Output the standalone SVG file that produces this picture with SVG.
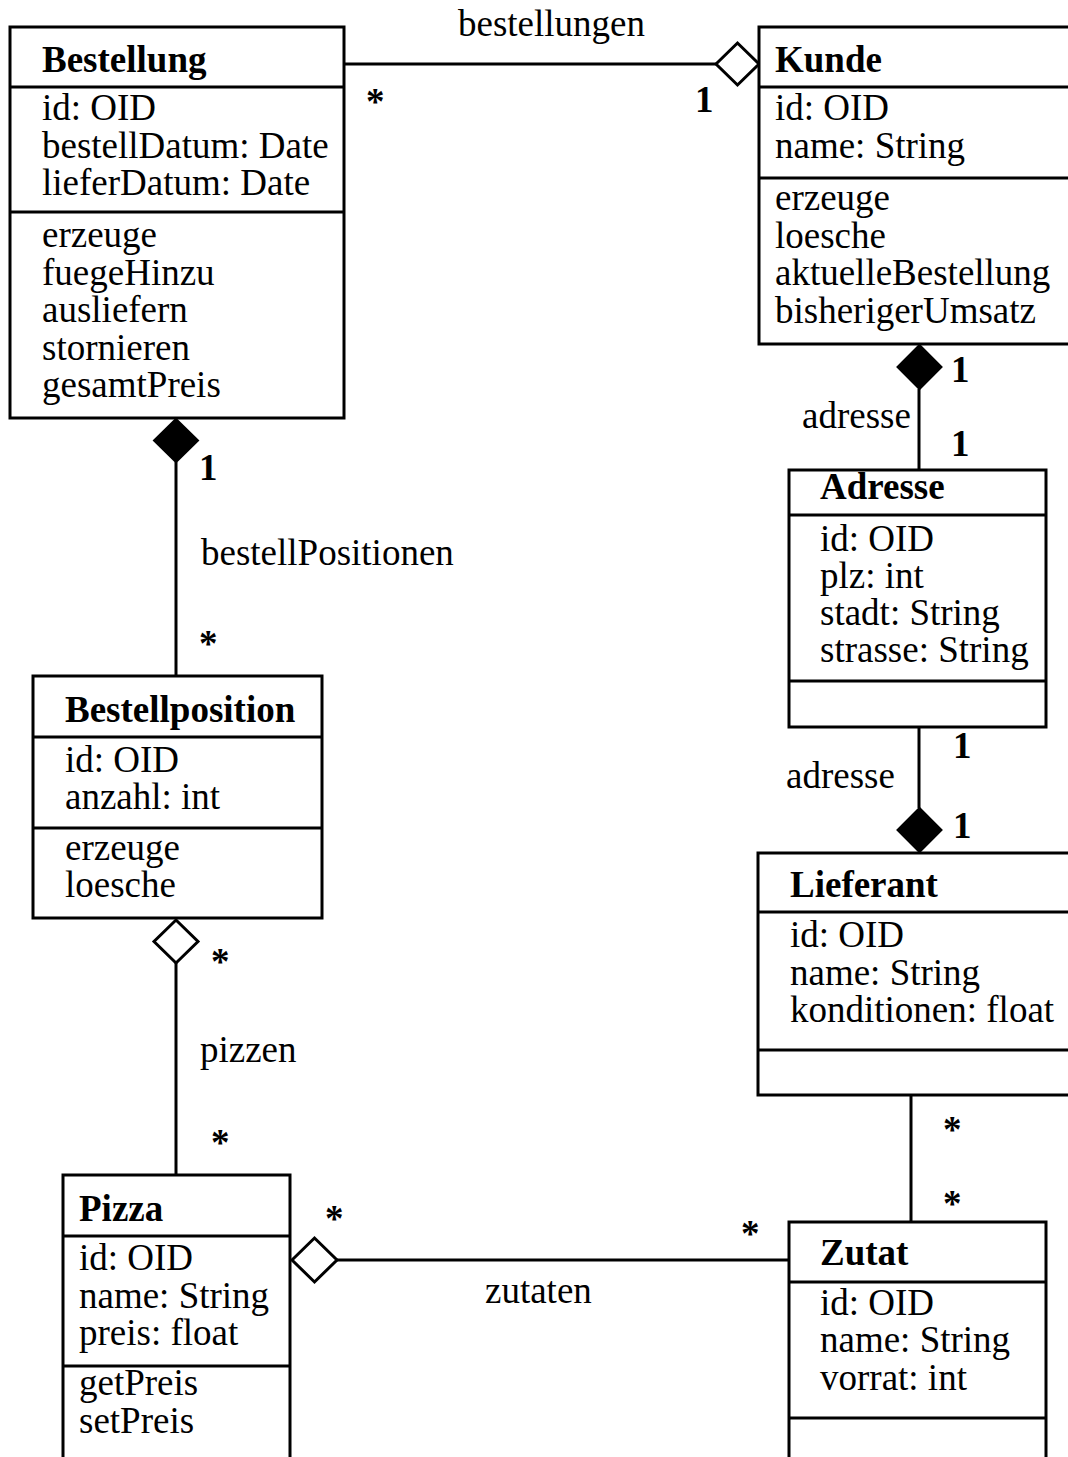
<svg xmlns="http://www.w3.org/2000/svg" width="1068" height="1457" viewBox="0 0 1068 1457">
  <style>
    text { font-family: "Liberation Serif", "Times New Roman", serif; font-size: 37px; fill: #000; }
    .b { font-weight: bold; }
    .box { fill: #fff; stroke: #000; stroke-width: 3; }
    .sep { stroke: #000; stroke-width: 3; }
    .ln { stroke: #000; stroke-width: 3; fill: none; }
    .open { fill: #fff; stroke: #000; stroke-width: 3; }
    .solid { fill: #000; stroke: #000; stroke-width: 2; }
  </style>

  <rect width="1068" height="1457" fill="#fff"/>

  <!-- associations -->
  <g id="connectors">
    <!-- Bestellung * — 1 Kunde (aggregation) -->
    <line class="ln" x1="344" y1="64" x2="716" y2="64"/>
    <polygon class="open" points="716,64 737.5,43 759,64 737.5,85"/>
    <text x="458" y="36">bestellungen</text>
    <text class="b" x="366" y="114">*</text>
    <text class="b" x="695" y="112">1</text>

    <!-- Kunde 1 — 1 Adresse (composition) -->
    <polygon class="solid" points="919.5,345 941.5,367 919.5,389 897.5,367"/>
    <line class="ln" x1="919" y1="389" x2="919" y2="470"/>
    <text x="802" y="428">adresse</text>
    <text class="b" x="951" y="382">1</text>
    <text class="b" x="951" y="456">1</text>

    <!-- Adresse 1 — 1 Lieferant (composition) -->
    <line class="ln" x1="919" y1="727" x2="919" y2="808"/>
    <polygon class="solid" points="919.5,808 941.5,830 919.5,852 897.5,830"/>
    <text x="786" y="788">adresse</text>
    <text class="b" x="953" y="758">1</text>
    <text class="b" x="953" y="838">1</text>

    <!-- Bestellung 1 — * Bestellposition (composition) -->
    <polygon class="solid" points="176,419 198,440.5 176,462 154,440.5"/>
    <line class="ln" x1="176" y1="462" x2="176" y2="676"/>
    <text class="b" x="199" y="480">1</text>
    <text x="201" y="565">bestellPositionen</text>
    <text class="b" x="199" y="656">*</text>

    <!-- Bestellposition * — * Pizza (aggregation) -->
    <polygon class="open" points="176,920 198,941.5 176,963 154,941.5"/>
    <line class="ln" x1="176" y1="963" x2="176" y2="1175"/>
    <text class="b" x="211" y="974">*</text>
    <text x="200" y="1062">pizzen</text>
    <text class="b" x="211" y="1155">*</text>

    <!-- Lieferant * — * Zutat -->
    <line class="ln" x1="911" y1="1095" x2="911" y2="1222"/>
    <text class="b" x="943" y="1142">*</text>
    <text class="b" x="943" y="1216">*</text>

    <!-- Pizza * — * Zutat (aggregation) -->
    <polygon class="open" points="292,1260 314.5,1238 337,1260 314.5,1282"/>
    <line class="ln" x1="337" y1="1260" x2="789" y2="1260"/>
    <text class="b" x="325" y="1231">*</text>
    <text class="b" x="741" y="1246">*</text>
    <text x="485" y="1303">zutaten</text>
  </g>

  <!-- classes -->
  <g id="Bestellung">
    <rect class="box" x="10" y="27" width="334" height="391"/>
    <line class="sep" x1="10" y1="87" x2="344" y2="87"/>
    <line class="sep" x1="10" y1="212" x2="344" y2="212"/>
    <text class="b" x="42" y="72">Bestellung</text>
    <text x="42" y="120">id: OID</text>
    <text x="42" y="157.5">bestellDatum: Date</text>
    <text x="42" y="195">lieferDatum: Date</text>
    <text x="42" y="247">erzeuge</text>
    <text x="42" y="284.5">fuegeHinzu</text>
    <text x="42" y="322">ausliefern</text>
    <text x="42" y="359.5">stornieren</text>
    <text x="42" y="397">gesamtPreis</text>
  </g>

  <g id="Kunde">
    <rect class="box" x="759" y="27" width="330" height="317"/>
    <line class="sep" x1="759" y1="87" x2="1089" y2="87"/>
    <line class="sep" x1="759" y1="178" x2="1089" y2="178"/>
    <text class="b" x="775" y="72">Kunde</text>
    <text x="775" y="120">id: OID</text>
    <text x="775" y="157.5">name: String</text>
    <text x="775" y="210">erzeuge</text>
    <text x="775" y="247.5">loesche</text>
    <text x="775" y="285">aktuelleBestellung</text>
    <text x="775" y="322.5">bisherigerUmsatz</text>
  </g>

  <g id="Adresse">
    <rect class="box" x="789" y="470" width="257" height="257"/>
    <line class="sep" x1="789" y1="515" x2="1046" y2="515"/>
    <line class="sep" x1="789" y1="681" x2="1046" y2="681"/>
    <text class="b" x="820" y="499">Adresse</text>
    <text x="820" y="551">id: OID</text>
    <text x="820" y="588">plz: int</text>
    <text x="820" y="625">stadt: String</text>
    <text x="820" y="662">strasse: String</text>
  </g>

  <g id="Bestellposition">
    <rect class="box" x="33" y="676" width="289" height="242"/>
    <line class="sep" x1="33" y1="737" x2="322" y2="737"/>
    <line class="sep" x1="33" y1="828" x2="322" y2="828"/>
    <text class="b" x="65" y="722">Bestellposition</text>
    <text x="65" y="772">id: OID</text>
    <text x="65" y="809">anzahl: int</text>
    <text x="65" y="860">erzeuge</text>
    <text x="65" y="897">loesche</text>
  </g>

  <g id="Lieferant">
    <rect class="box" x="758" y="853" width="331" height="242"/>
    <line class="sep" x1="758" y1="912" x2="1089" y2="912"/>
    <line class="sep" x1="758" y1="1050" x2="1089" y2="1050"/>
    <text class="b" x="790" y="897">Lieferant</text>
    <text x="790" y="947">id: OID</text>
    <text x="790" y="985">name: String</text>
    <text x="790" y="1022">konditionen: float</text>
  </g>

  <g id="Pizza">
    <rect class="box" x="63" y="1175" width="227" height="300"/>
    <line class="sep" x1="63" y1="1236" x2="290" y2="1236"/>
    <line class="sep" x1="63" y1="1366" x2="290" y2="1366"/>
    <text class="b" x="79" y="1221">Pizza</text>
    <text x="79" y="1270">id: OID</text>
    <text x="79" y="1308">name: String</text>
    <text x="79" y="1345">preis: float</text>
    <text x="79" y="1395">getPreis</text>
    <text x="79" y="1433">setPreis</text>
  </g>

  <g id="Zutat">
    <rect class="box" x="789" y="1222" width="257" height="260"/>
    <line class="sep" x1="789" y1="1282" x2="1046" y2="1282"/>
    <line class="sep" x1="789" y1="1418" x2="1046" y2="1418"/>
    <text class="b" x="820" y="1265">Zutat</text>
    <text x="820" y="1315">id: OID</text>
    <text x="820" y="1352">name: String</text>
    <text x="820" y="1390">vorrat: int</text>
  </g>
</svg>
